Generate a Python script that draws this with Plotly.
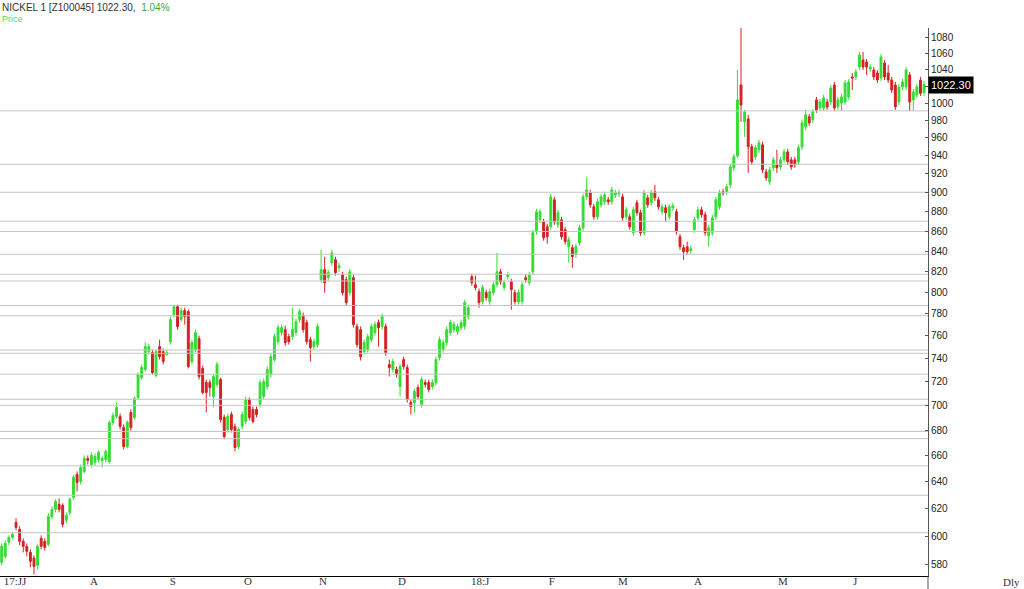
import math
import plotly.graph_objects as go

# daily candles, NICKEL 1, Jul 2017 - Jun 2018
opens = [
    581.8, 585.9, 595.7, 599.2, 609.9, 604.9, 596.4, 592.9, 588.7, 584.6,
    579.7, 598.5, 596.4, 594.3, 614.2, 619.3, 623.0, 622.3, 611.4, 617.1,
    628.2, 645.4, 640.1, 647.7, 657.7, 653.0, 654.6, 656.9, 656.1, 656.9,
    655.3, 686.2, 691.1, 691.1, 682.1, 667.0, 694.3, 690.3, 706.7, 723.5,
    730.4, 746.0, 745.2, 725.3, 750.4, 746.0, 743.4, 754.8, 779.3, 786.6,
    774.7, 783.0, 782.1, 737.3, 747.8, 757.5, 731.3, 719.3, 719.3, 707.5,
    717.6, 721.8, 690.3, 680.5, 692.7, 683.0, 667.0, 683.0, 687.0, 705.0,
    696.8, 696.8, 700.9, 707.5, 715.9, 726.1, 739.0, 754.8, 762.9, 765.6,
    759.3, 759.3, 762.9, 774.7, 778.4, 772.0, 756.6, 750.4, 752.2, 812.1,
    821.7, 814.0, 828.4, 831.4, 823.6, 816.9, 812.1, 799.8, 814.0, 768.4,
    765.6, 746.0, 747.8, 756.6, 762.9, 772.0, 768.4, 768.4, 734.7, 730.4,
    730.4, 715.9, 739.0, 732.1, 702.5, 702.5, 715.1, 700.9, 719.3, 719.3,
    715.9, 719.3, 740.8, 747.8, 754.0, 762.9, 765.6, 763.8, 767.4, 768.4,
    777.5, 815.0, 807.3, 800.7, 791.3, 799.8, 791.3, 799.8, 807.3, 819.7,
    804.5, 815.0, 810.2, 799.8, 791.3, 791.3, 814.0, 809.2, 819.7, 859.3,
    871.6, 869.6, 864.3, 864.3, 892.3, 866.4, 871.6, 861.3, 844.3, 843.3,
    836.4, 848.3, 863.3, 895.5, 899.7, 885.0, 874.6, 887.1, 890.2, 892.3,
    890.2, 897.6, 898.7, 895.5, 874.6, 874.6, 858.3, 889.2, 878.8, 858.3,
    894.4, 889.2, 900.8, 892.3, 879.8, 884.0, 874.6, 884.0, 879.8, 854.3,
    843.3, 844.3, 840.3, 861.3, 873.6, 881.9, 876.7, 855.3, 858.3, 874.6,
    885.0, 900.8, 900.8, 908.2, 926.6, 939.8, 1021.8, 978.3, 981.7, 949.9,
    938.7, 946.5, 952.1, 922.2, 911.5, 926.6, 929.9, 927.7, 935.4, 944.2,
    935.4, 935.4, 933.2, 949.9, 972.5, 984.1, 980.6, 1003.9, 994.5, 994.5,
    1001.5, 1001.5, 1021.8, 995.7, 1000.3, 1001.5, 1007.5, 1031.5, 1031.5, 1043.6,
    1052.3, 1049.8, 1041.2, 1040.0, 1036.3, 1030.2, 1048.6, 1036.3, 1027.8, 1021.8,
    1001.5, 1019.4, 1019.4, 1033.9, 1003.9, 1009.9, 1027.8, 1012.5,
]
highs = [
    595.0, 597.1, 600.6, 602.7, 612.8, 607.0, 598.5, 595.0, 590.8, 586.6,
    594.3, 600.6, 598.5, 616.4, 621.5, 626.7, 627.4, 623.8, 617.1, 628.2,
    644.6, 647.7, 653.0, 660.0, 660.0, 662.4, 661.6, 663.9, 660.0, 664.7,
    687.8, 694.3, 702.5, 693.5, 684.6, 687.8, 696.8, 707.5, 727.8, 734.7,
    754.0, 753.1, 747.8, 747.8, 756.6, 748.7, 747.8, 777.5, 788.5, 788.5,
    785.7, 785.7, 783.9, 756.6, 765.6, 760.2, 733.9, 721.8, 721.8, 726.1,
    737.3, 723.5, 692.7, 693.5, 695.1, 685.4, 682.1, 695.1, 707.5, 706.7,
    699.2, 699.2, 721.8, 722.7, 733.0, 744.3, 762.0, 770.2, 770.2, 769.3,
    762.0, 785.7, 775.6, 784.8, 781.2, 774.7, 759.3, 757.5, 771.1, 841.3,
    834.4, 821.7, 841.3, 834.4, 828.4, 819.7, 815.0, 822.6, 816.9, 771.1,
    768.4, 756.6, 762.0, 771.1, 772.9, 774.7, 780.2, 771.1, 739.0, 739.9,
    733.0, 735.6, 741.6, 734.7, 705.0, 714.2, 717.6, 724.4, 721.8, 721.8,
    721.8, 741.6, 759.3, 756.6, 768.4, 774.7, 772.9, 771.1, 774.7, 793.2,
    788.5, 817.9, 816.0, 803.6, 807.3, 802.6, 803.6, 810.2, 838.3, 822.6,
    812.1, 819.7, 813.1, 802.6, 802.6, 810.2, 816.9, 819.7, 861.3, 882.9,
    882.9, 872.6, 867.4, 898.7, 895.5, 881.9, 874.6, 864.3, 854.3, 846.3,
    847.3, 866.4, 898.7, 916.8, 902.9, 888.1, 893.4, 898.7, 900.8, 895.5,
    906.1, 902.9, 902.9, 898.7, 885.0, 877.8, 885.0, 892.3, 881.9, 902.9,
    897.6, 902.9, 908.2, 895.5, 888.1, 887.1, 888.1, 889.2, 882.9, 857.3,
    846.3, 849.3, 845.3, 874.6, 885.0, 885.0, 879.8, 866.4, 876.7, 895.5,
    902.9, 904.0, 909.3, 931.0, 942.0, 1040.0, 1093.0, 992.2, 986.4, 953.2,
    952.1, 957.7, 955.4, 925.5, 927.7, 938.7, 946.5, 938.7, 947.6, 947.6,
    938.7, 938.7, 952.1, 980.6, 992.2, 987.6, 993.4, 1007.5, 1005.1, 1009.9,
    1005.1, 1021.8, 1025.4, 1007.5, 1011.1, 1027.8, 1029.0, 1036.3, 1041.2, 1062.3,
    1062.3, 1053.5, 1047.3, 1043.6, 1040.0, 1059.7, 1052.3, 1046.1, 1031.5, 1025.4,
    1023.0, 1029.0, 1043.6, 1037.6, 1017.0, 1023.0, 1031.5, 1026.6,
]
lows = [
    579.7, 584.6, 593.6, 597.8, 604.2, 593.6, 588.7, 585.9, 578.4, 573.6,
    577.0, 590.8, 590.1, 592.9, 612.1, 617.1, 617.1, 606.3, 609.2, 615.0,
    626.7, 632.6, 637.8, 646.2, 653.0, 650.7, 652.2, 654.6, 650.7, 654.6,
    653.8, 683.8, 689.4, 680.5, 664.7, 665.5, 679.7, 688.6, 705.0, 721.8,
    728.7, 743.4, 726.1, 723.5, 739.0, 734.7, 742.5, 752.2, 776.6, 765.6,
    772.9, 770.2, 731.3, 734.7, 745.2, 721.8, 709.2, 694.3, 707.5, 698.4,
    715.1, 686.2, 672.6, 678.1, 678.1, 663.1, 664.7, 680.5, 684.6, 687.8,
    685.4, 690.3, 698.4, 705.0, 713.4, 723.5, 737.3, 752.2, 760.2, 751.3,
    752.2, 756.6, 760.2, 772.0, 762.9, 752.2, 737.3, 747.8, 749.6, 809.2,
    799.5, 811.1, 825.5, 816.0, 819.7, 797.0, 787.6, 797.0, 767.4, 749.6,
    738.2, 743.4, 745.2, 754.0, 760.2, 750.4, 765.6, 742.5, 724.4, 727.8,
    723.5, 707.5, 730.4, 702.5, 692.7, 694.3, 705.0, 698.4, 715.1, 710.9,
    713.4, 716.8, 738.2, 745.2, 751.3, 760.2, 762.9, 761.1, 764.7, 765.6,
    774.7, 806.3, 801.7, 785.7, 788.5, 792.3, 788.5, 797.0, 804.5, 807.3,
    801.7, 812.1, 783.9, 788.5, 788.5, 788.5, 809.2, 806.3, 816.9, 856.3,
    868.4, 850.3, 847.3, 861.3, 866.4, 863.3, 851.3, 846.3, 828.4, 823.6,
    833.4, 845.3, 860.3, 892.3, 884.0, 871.6, 871.6, 884.0, 887.1, 887.1,
    887.1, 894.4, 895.5, 870.6, 871.6, 861.3, 855.3, 875.7, 855.3, 855.3,
    884.0, 886.0, 891.2, 881.9, 876.7, 869.6, 871.6, 880.8, 856.3, 841.3,
    831.4, 836.4, 837.3, 858.3, 870.6, 873.6, 855.3, 844.3, 855.3, 871.6,
    881.9, 896.5, 897.6, 905.0, 923.3, 937.6, 978.3, 961.1, 921.1, 929.9,
    935.4, 943.1, 921.1, 912.5, 908.2, 923.3, 921.1, 924.4, 932.1, 929.9,
    924.4, 926.6, 929.9, 946.5, 969.1, 973.7, 977.1, 988.7, 991.0, 991.0,
    992.2, 998.0, 991.0, 992.2, 991.0, 998.0, 1003.9, 1015.8, 1027.8, 1040.0,
    1040.0, 1033.9, 1037.6, 1027.8, 1024.2, 1026.6, 1027.8, 1024.2, 1012.2, 992.2,
    998.0, 1015.8, 1015.8, 991.0, 991.0, 1006.3, 1008.7, 1008.7,
]
closes = [
    592.9, 595.0, 599.2, 601.3, 606.3, 596.4, 592.9, 589.4, 582.5, 579.0,
    592.9, 592.9, 592.2, 614.2, 619.3, 625.2, 619.3, 608.5, 615.0, 626.7,
    643.1, 639.3, 650.7, 657.7, 656.1, 660.0, 659.2, 662.4, 657.7, 663.1,
    686.2, 691.9, 698.4, 683.0, 667.0, 686.2, 682.1, 705.8, 726.1, 732.1,
    750.4, 750.4, 727.8, 746.0, 741.6, 737.3, 745.2, 774.7, 786.6, 768.4,
    783.0, 777.5, 733.0, 754.0, 762.9, 724.4, 710.9, 710.9, 715.1, 724.4,
    734.7, 688.6, 674.9, 691.1, 680.5, 666.2, 680.5, 692.7, 705.0, 690.3,
    687.0, 692.7, 719.3, 720.1, 730.4, 741.6, 759.3, 767.4, 767.4, 754.0,
    754.8, 765.6, 772.9, 782.1, 765.6, 754.8, 749.6, 754.8, 768.4, 821.7,
    809.2, 818.8, 838.3, 818.8, 825.5, 799.8, 790.4, 819.7, 770.2, 752.2,
    741.6, 754.0, 759.3, 768.4, 770.2, 767.4, 777.5, 745.2, 732.1, 737.3,
    726.1, 733.0, 733.0, 705.0, 699.2, 711.7, 707.5, 721.8, 717.6, 713.4,
    719.3, 739.0, 756.6, 754.0, 765.6, 772.0, 770.2, 768.4, 772.0, 790.4,
    785.7, 809.2, 804.5, 790.4, 804.5, 795.1, 800.7, 807.3, 819.7, 810.2,
    809.2, 816.9, 802.6, 791.3, 799.8, 807.3, 812.1, 816.9, 858.3, 879.8,
    879.8, 853.3, 854.3, 895.5, 869.6, 878.8, 854.3, 849.3, 851.3, 834.4,
    844.3, 863.3, 895.5, 902.9, 887.1, 874.6, 890.2, 895.5, 897.6, 890.2,
    902.9, 899.7, 899.7, 873.6, 881.9, 864.3, 881.9, 878.8, 858.3, 899.7,
    887.1, 899.7, 894.4, 885.0, 885.0, 878.8, 885.0, 886.0, 859.3, 844.3,
    839.3, 839.3, 842.3, 871.6, 881.9, 876.7, 858.3, 863.3, 873.6, 892.3,
    899.7, 899.7, 906.1, 927.7, 938.7, 1003.9, 998.0, 989.9, 949.9, 933.2,
    948.8, 954.3, 924.4, 915.7, 924.4, 935.4, 926.6, 935.4, 944.2, 933.2,
    927.7, 929.9, 948.8, 977.1, 986.4, 977.1, 989.9, 992.2, 1001.5, 1006.3,
    995.7, 1018.2, 994.5, 1003.9, 1007.5, 1024.2, 1025.4, 1030.2, 1037.6, 1058.5,
    1043.6, 1043.6, 1043.6, 1031.5, 1027.8, 1056.0, 1031.5, 1027.8, 1015.8, 995.7,
    1019.4, 1025.4, 1040.0, 1001.5, 1013.4, 1019.4, 1011.8, 1022.3,
]

# horizontal level lines drawn on the chart
levels = [991.0, 930.5, 900.3, 870.0, 859.6, 836.8, 817.3, 810.8, 787.7, 778.2,
          747.4, 744.5, 726.4, 705.2, 700.2, 678.9, 673.2, 651.9, 629.7, 602.5]

month_labels = ["17:JJ", "A", "S", "O", "N", "D", "18:J", "F", "M", "A", "M", "J"]
month_pos = [3.7, 25.7, 47.7, 68.6, 89.5, 111.5, 133.3, 153.3, 173.1, 194.0, 217.7, 237.8]

price_ticks = list(range(580, 1100, 20))
last_price = 1022.30
pct_change = 1.04

GREEN = "#33dd33"
RED = "#d42020"

idx = list(range(len(closes)))
x_lo, x_hi = -0.47, 258.1

# the last-price tag hides the 1020 label
tick_text = ["" if t == 1020 else str(t) for t in price_ticks]

fig = go.Figure()

# level lines
lx, ly = [], []
for v in levels:
    lx += [x_lo, x_hi, None]
    ly += [v, v, None]
fig.add_trace(go.Scatter(x=lx, y=ly, mode="lines", line=dict(color="#c4c4c4", width=1),
                         hoverinfo="skip", showlegend=False))

fig.add_trace(go.Candlestick(
    x=idx, open=opens, high=highs, low=lows, close=closes,
    increasing=dict(line=dict(color=GREEN, width=1), fillcolor=GREEN),
    decreasing=dict(line=dict(color=RED, width=1), fillcolor=RED),
    whiskerwidth=0, showlegend=False,
))

fig.update_layout(
    width=1024, height=589,
    margin=dict(l=0, r=96, t=28, b=13),
    paper_bgcolor="white", plot_bgcolor="white",
    boxgap=0.25,
    xaxis=dict(range=[x_lo, x_hi], rangeslider=dict(visible=False),
               tickmode="array", tickvals=month_pos, ticktext=month_labels,
               showgrid=False, zeroline=False, showline=True, linecolor="#000", linewidth=1,
               ticks="", ticklabelstandoff=-5,
               tickfont=dict(family="Liberation Serif", size=11, color="#333"),
               automargin=False),
    yaxis=dict(type="log", side="right",
               range=[math.log10(572.5), math.log10(1092.8)],
               tickmode="array", tickvals=price_ticks, ticktext=tick_text,
               showgrid=False, zeroline=False, showline=True, linecolor="#555", linewidth=1,
               ticks="inside", ticklen=3, tickcolor="#555",
               tickfont=dict(family="Liberation Sans", size=10, color="#222"),
               automargin=False),
    font=dict(family="Liberation Sans", size=10, color="#222"),
)

# right axis line runs down to the bottom edge
fig.add_shape(type="line", xref="paper", yref="paper", x0=1, x1=1, y0=-13 / 548, y1=0,
              line=dict(color="#555", width=1))

fig.add_annotation(xref="paper", yref="paper", x=0, y=1 + 21 / 548, xanchor="left", yanchor="middle",
                   showarrow=False, font=dict(family="Liberation Sans", size=10, color="#333"),
                   text=f"NICKEL 1 [Z100045] {last_price:.2f},  "
                        f"<span style='color:#3aa83a'>{pct_change:.2f}%</span>")
fig.add_annotation(xref="paper", yref="paper", x=0, y=1 + 9 / 548, xanchor="left", yanchor="middle",
                   showarrow=False, font=dict(family="Liberation Sans", size=9, color="#55dd55"),
                   text="Price")
fig.add_annotation(xref="paper", yref="y", x=1, y=math.log10(last_price), xanchor="left",
                   yanchor="middle", showarrow=False, bgcolor="#000", borderpad=2,
                   font=dict(family="Liberation Sans", size=11, color="white"),
                   text=f"{last_price:.2f}")
fig.add_annotation(xref="paper", yref="paper", x=1012 / 928, y=-6 / 548, xanchor="center",
                   yanchor="middle", showarrow=False,
                   font=dict(family="Liberation Serif", size=11, color="#333"), text="Dly")

# drop the page's default body margin so the figure sits at the window's corner
fig.write_html("out.html", config={"displayModeBar": False},
               post_script="document.body.style.margin='0px';")
